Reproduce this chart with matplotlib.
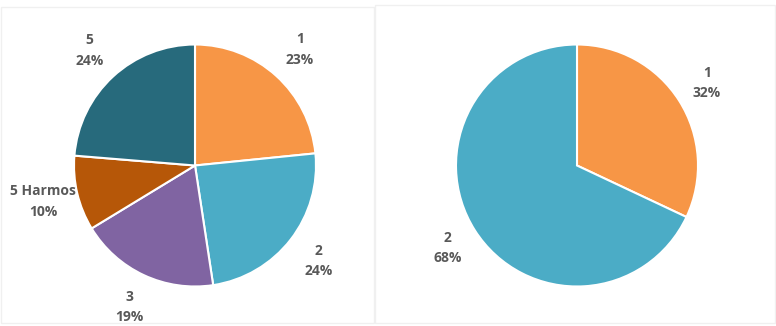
import matplotlib
matplotlib.use("Agg")
import matplotlib.pyplot as plt
from matplotlib.patches import Rectangle

# ---------------------- 数据 ----------------------
left_labels = ["1", "2", "3", "5 Harmos", "5"]
left_values = [23.4, 24.2, 18.7, 10.0, 23.7]
left_colors = ["#F79646", "#4BACC6", "#8064A2", "#B65708", "#276A7C"]

right_labels = ["1", "2"]
right_values = [32, 68]
right_colors = ["#F79646", "#4BACC6"]

plt.rcParams["font.family"] = ["Open Sans", "DejaVu Sans"]

W, H = 776, 326
R = 121  # 饼图半径（像素）
L = 1.3  # 坐标范围

fig = plt.figure(figsize=(W / 100, H / 100), dpi=100)
fig.patch.set_facecolor("white")

# 面板边框（很淡）
fig.patches.append(Rectangle((1 / W, 3 / H), 373 / W, 316 / H, transform=fig.transFigure,
                             fill=False, edgecolor="#F0F0F0", linewidth=1.0))
fig.patches.append(Rectangle((375 / W, 3 / H), 400 / W, 318 / H, transform=fig.transFigure,
                             fill=False, edgecolor="#F0F0F0", linewidth=1.0))


def draw_pie(cx, cy, labels, values, colors, dist):
    side = 2 * L * R
    ax = fig.add_axes([(cx - side / 2) / W, (H - cy - side / 2) / H, side / W, side / H])
    total = sum(values)
    texts = [f"{lab}\n{v / total * 100:.0f}%" for lab, v in zip(labels, values)]
    ax.pie(values, labels=texts, colors=colors, startangle=90, counterclock=False,
           labeldistance=dist,
           wedgeprops=dict(edgecolor="white", linewidth=1.5),
           textprops=dict(ha="center", va="center", color="#595959",
                          fontsize=10, fontweight="bold", linespacing=1.6))
    ax.set_xlim(-L, L)
    ax.set_ylim(-L, L)
    ax.set_aspect("equal")
    ax.axis("off")
    return ax


draw_pie(195, 165.5, left_labels, left_values, left_colors, 1.29)
draw_pie(577, 165.5, right_labels, right_values, right_colors, 1.27)

fig.savefig("out.png", dpi=100)
